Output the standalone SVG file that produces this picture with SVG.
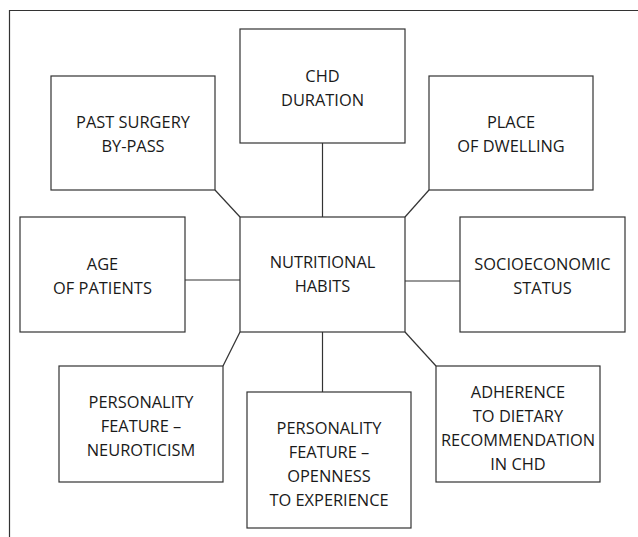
<svg xmlns="http://www.w3.org/2000/svg" width="638" height="537" viewBox="0 0 638 537">
<style>
.box{fill:#fff;stroke:#333;stroke-width:1.2}
.ln{fill:none;stroke:#333;stroke-width:1.2}
text{font-family:"Open Sans","Liberation Sans",sans-serif;font-size:16.4px;fill:#1a1a1a;text-anchor:middle}
</style>
<rect width="638" height="537" fill="#fff"/>
<path class="ln" d="M9.5,537 V10.5 H638"/>
<g id="connectors">
<line class="ln" x1="215" y1="190" x2="240" y2="217"/>
<line class="ln" x1="322.5" y1="143" x2="322.5" y2="217"/>
<line class="ln" x1="429" y1="190" x2="405" y2="217"/>
<line class="ln" x1="185" y1="280" x2="240" y2="280"/>
<line class="ln" x1="405" y1="281" x2="460" y2="281"/>
<line class="ln" x1="223" y1="366" x2="240" y2="332"/>
<line class="ln" x1="322.5" y1="332" x2="322.5" y2="392"/>
<line class="ln" x1="405" y1="332" x2="436" y2="366"/>
</g>
<g id="past-surgery">
<rect class="box" x="51" y="76" width="164" height="114"/>
<text x="133" y="128">PAST SURGERY</text>
<text x="133" y="152">BY-PASS</text>
</g>
<g id="chd-duration">
<rect class="box" x="240" y="29" width="165" height="114"/>
<text x="322.5" y="82">CHD</text>
<text x="322.5" y="106">DURATION</text>
</g>
<g id="place-dwelling">
<rect class="box" x="429" y="76" width="164" height="114"/>
<text x="511" y="128">PLACE</text>
<text x="511" y="152">OF DWELLING</text>
</g>
<g id="age">
<rect class="box" x="20" y="217" width="165" height="115"/>
<text x="102.5" y="270">AGE</text>
<text x="102.5" y="294">OF PATIENTS</text>
</g>
<g id="nutritional">
<rect class="box" x="240" y="217" width="165" height="115"/>
<text x="322.5" y="268">NUTRITIONAL</text>
<text x="322.5" y="292">HABITS</text>
</g>
<g id="socioeconomic">
<rect class="box" x="460" y="217" width="165" height="115"/>
<text x="542.5" y="270">SOCIOECONOMIC</text>
<text x="542.5" y="294">STATUS</text>
</g>
<g id="neuroticism">
<rect class="box" x="59" y="366" width="164" height="116"/>
<text x="141" y="408">PERSONALITY</text>
<text x="141" y="432">FEATURE –</text>
<text x="141" y="456">NEUROTICISM</text>
</g>
<g id="openness">
<rect class="box" x="247" y="392" width="164" height="136"/>
<text x="329" y="434">PERSONALITY</text>
<text x="329" y="458">FEATURE –</text>
<text x="329" y="482">OPENNESS</text>
<text x="329" y="506">TO EXPERIENCE</text>
</g>
<g id="adherence">
<rect class="box" x="436" y="366" width="164" height="116"/>
<text x="518" y="398">ADHERENCE</text>
<text x="518" y="422">TO DIETARY</text>
<text x="518" y="446">RECOMMENDATION</text>
<text x="518" y="470">IN CHD</text>
</g>
</svg>
